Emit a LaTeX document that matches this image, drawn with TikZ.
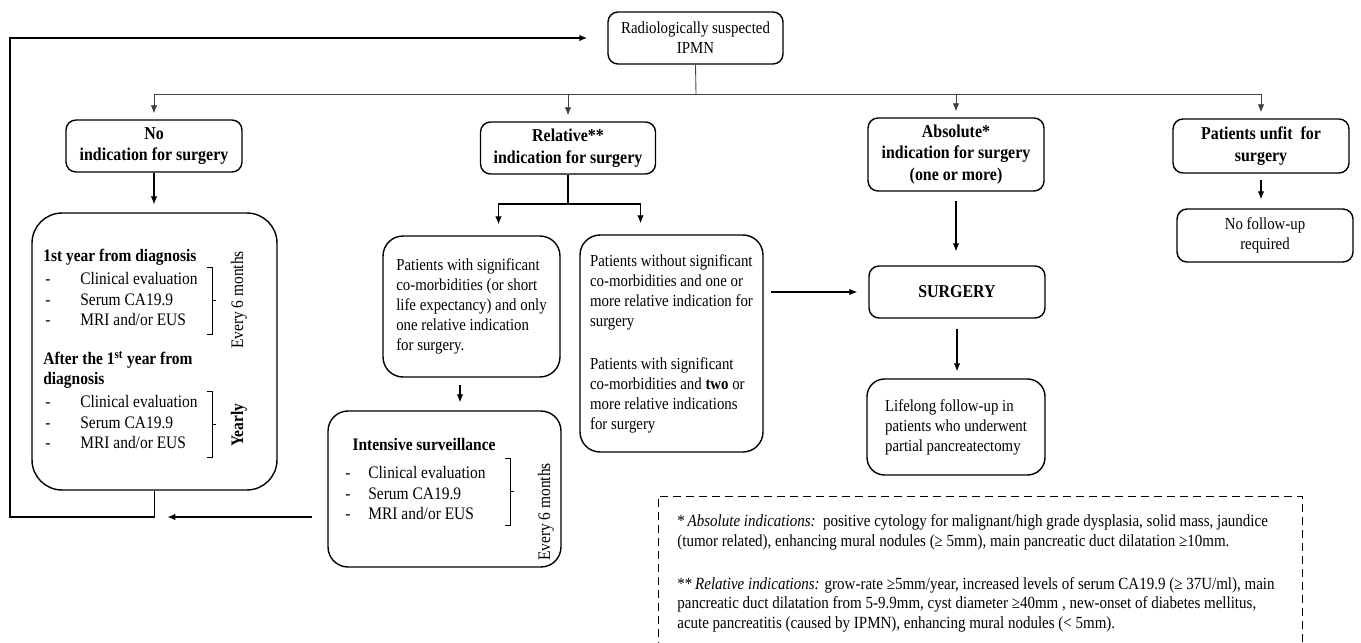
\documentclass[tikz,border=0pt]{standalone}
\usepackage{fontspec}
\setmainfont{Liberation Serif}[FakeStretch=0.88]
\usepackage{tikz}
\usetikzlibrary{positioning,arrows.meta}

\newcommand{\itm}[2]{\makebox[#1][l]{-}#2}

\begin{document}
\begin{tikzpicture}[x=0.02cm, y=-0.02cm,
    >={Latex[length=1.6mm,width=1.3mm]},
    every node/.style={font=\fontsize{9.6}{11.4}\selectfont},
    box/.style={rectangle, draw, line width=0.8pt, rounded corners=2mm,
        align=center, inner sep=0pt},
    head/.style={box, font=\bfseries\fontsize{10.3}{12.4}\selectfont},
    txt/.style={anchor=west, inner sep=0pt, align=left},
    lst/.style={txt, font=\fontsize{10}{11.9}\selectfont},
    bold/.style={font=\bfseries\fontsize{10}{11.4}\selectfont},
    side/.style={rotate=90, inner sep=0pt, font=\fontsize{10}{12}\selectfont},
    link/.style={->, line width=0.6pt},
    bus/.style={line width=0.5pt, draw=black!75},
    brace/.style={line width=0.4pt}
]
\useasboundingbox (0,0) rectangle (1361,642);

\node (rad) [box, minimum width=3.5cm, minimum height=1.04cm] at (695.5,38) {Radiologically suspected\\IPMN};
\node (noind) [head, minimum width=3.52cm, minimum height=1.04cm] at (154,146) {No\\indication for surgery};
\node (relind) [head, minimum width=3.5cm, minimum height=1.04cm] at (568,148) {Relative**\\indication for surgery};
\node (absind) [head, minimum width=3.52cm, minimum height=1.46cm] at (956,154.5) {Absolute*\\indication for surgery\\(one or more)};
\node (unfit) [head, minimum width=3.52cm, minimum height=1.08cm] at (1261,146) {Patients unfit\ \ for\\surgery};
\node (nofol) [box, minimum width=3.52cm, minimum height=1.06cm] at (1265,235.5) {No follow-up\\required};

% surveillance without surgery
\node (follow) [box, rounded corners=6mm, minimum width=4.9cm, minimum height=5.54cm] at (154.5,351.5) {};
\node (yr1) [txt, bold] at (43,257) {1st year from diagnosis};
\node (yr1list) [lst] at (45,299) {\itm{0.7cm}{Clinical evaluation}\\\itm{0.7cm}{Serum CA19.9}\\\itm{0.7cm}{MRI and/or EUS}};
\draw[brace] (207,267) -- (212,267) -- (212,334) -- (207,334) (212,300) -- (216,300);
\node (ev1) [side] at (239,300) {Every 6 months};
\node (yr2) [txt, bold] at (43,370) {After the 1\textsuperscript{st} year from\\diagnosis};
\node (yr2list) [lst] at (45,422) {\itm{0.7cm}{Clinical evaluation}\\\itm{0.7cm}{Serum CA19.9}\\\itm{0.7cm}{MRI and/or EUS}};
\draw[brace] (207,391) -- (212,391) -- (212,457) -- (207,457) (212,424) -- (216,424);
\node (yearly) [side, font=\bfseries\fontsize{10}{12}\selectfont] at (239,425) {Yearly};

% relative indication branches
\node (comorb) [box, rounded corners=4mm, minimum width=3.54cm, minimum height=2.82cm, align=left] at (471.5,306.5) {Patients with significant\\co-morbidities (or short\\life expectancy) and only\\one relative indication\\for surgery.};
\node (nocomorb) [box, rounded corners=4mm, minimum width=3.66cm, minimum height=4.34cm, align=left] at (671.5,343.5) {Patients without significant\\co-morbidities and one or\\more relative indication for\\surgery\\[0.46cm]Patients with significant\\co-morbidities and \textbf{two} or\\more relative indications\\for surgery};

\node (int) [box, rounded corners=4mm, minimum width=4.66cm, minimum height=3.12cm] at (444.5,489) {};
\node (inthead) [bold, inner sep=0pt] at (424,445) {Intensive surveillance};
\node (intlist) [lst] at (345,493) {\itm{0.46cm}{Clinical evaluation}\\\itm{0.46cm}{Serum CA19.9}\\\itm{0.46cm}{MRI and/or EUS}};
\draw[brace] (505,458) -- (510,458) -- (510,525) -- (505,525) (510,491) -- (514,491);
\node (ev3) [side] at (546,512) {Every 6 months};

\node (surg) [head, minimum width=3.52cm, minimum height=1.04cm] at (957,292) {SURGERY};
\node (life) [box, rounded corners=3.5mm, minimum width=3.56cm, minimum height=1.92cm, align=left] at (956,427) {Lifelong follow-up in\\patients who underwent\\partial pancreatectomy};

% footnote
\node (fn) [anchor=north west, inner sep=0pt, align=left, font=\fontsize{9.7}{11.3}\selectfont] at (677,514) {*\,\textit{Absolute indications:}\ \ positive cytology for malignant/high grade dysplasia, solid mass, jaundice\\(tumor related), enhancing mural nodules (≥ 5mm), main pancreatic duct dilatation ≥10mm.\\[0.46cm]**\,\textit{Relative indications:} grow-rate ≥5mm/year, increased levels of serum CA19.9 (≥ 37U/ml), main\\pancreatic duct dilatation from 5-9.9mm, cyst diameter ≥40mm , new-onset of diabetes mellitus,\\acute pancreatitis (caused by IPMN), enhancing mural nodules (< 5mm).};
\draw[dashed, dash pattern=on 0.16cm off 0.1cm, line width=0.5pt] (658,650) |- (1302,496) -- (1302,650);

\coordinate (bus) at (696,94);
\coordinate (loopc) at (10,517);
\coordinate (split) at (568,204);

\draw[line width=0.9pt, ->, shorten >=0.4cm] (follow.south) |- (loopc) |- (rad.west);
\draw[link, shorten <=0.3cm, shorten >=0.26cm] (int.west |- loopc) -- (follow.south |- loopc);

\draw[bus] (rad.south) -- (bus);
\draw[bus] (noind.north |- bus) -- (unfit.north |- bus);
\draw[link, bus, shorten >=0.12cm] (noind.north |- bus) -- (noind.north);
\draw[link, bus, shorten >=0.12cm] (relind.north |- bus) -- (relind.north);
\draw[link, bus, shorten >=0.12cm] (absind.north |- bus) -- (absind.north);
\draw[link, bus, shorten >=0.12cm] (unfit.north |- bus) -- (unfit.north);

\draw[link, shorten >=0.16cm] (noind.south) -- (noind.south |- follow.north);
\draw[line width=0.6pt] (relind.south) -- (split);
\draw[link, shorten >=0.22cm] (split) -| ([xshift=0.54cm]comorb.north);
\draw[link, shorten >=0.22cm] (split) -| ([xshift=-0.62cm]nocomorb.north);
\draw[link, shorten <=0.14cm, shorten >=0.16cm] ([xshift=-0.23cm]comorb.south) -- ([xshift=-0.23cm]comorb.south |- int.north);
\draw[link, shorten <=0.14cm, shorten >=0.22cm] (nocomorb.east |- surg) -- (surg.west);
\draw[link, shorten <=0.18cm, shorten >=0.28cm] (absind.south) -- (absind.south |- surg.north);
\draw[link, shorten <=0.2cm, shorten >=0.14cm] (surg.south) -- (surg.south |- life.north);
\draw[link, shorten <=0.12cm, shorten >=0.18cm] (unfit.south) -- (unfit.south |- nofol.north);
\end{tikzpicture}
\end{document}
